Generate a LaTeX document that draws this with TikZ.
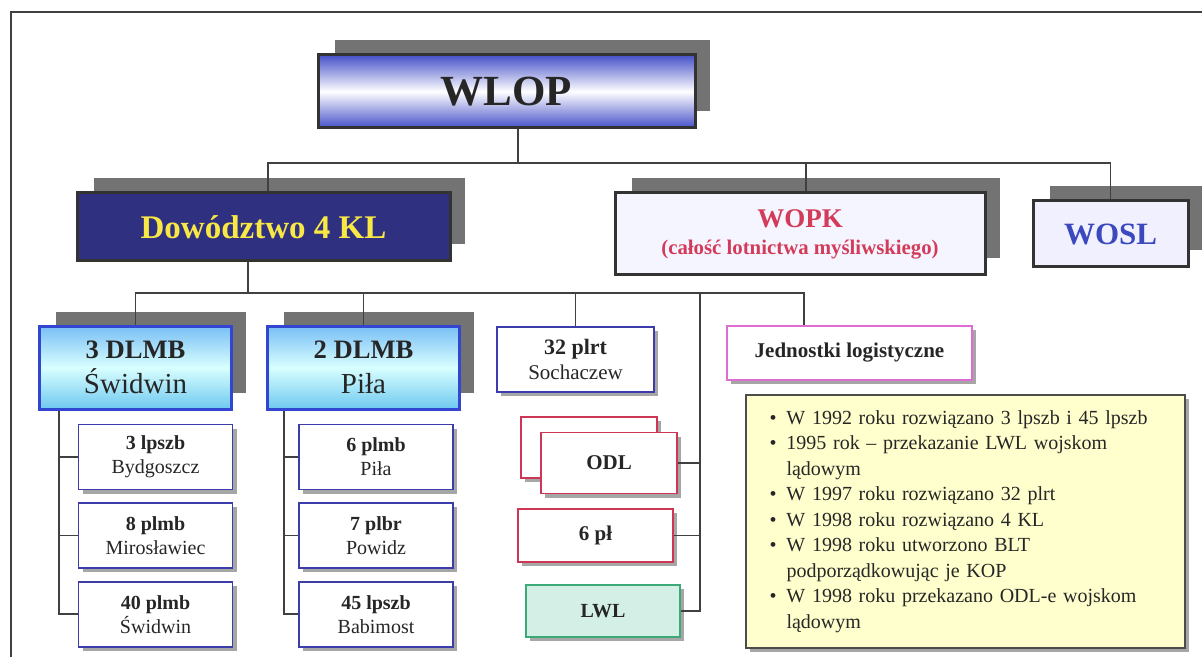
\documentclass[tikz,border=0pt]{standalone}
\usepackage{fontspec}
\setmainfont{Liberation Serif}
\usetikzlibrary{positioning,shadows,backgrounds}

\definecolor{wlopblue}{RGB}{70,80,200}
\definecolor{navyfill}{RGB}{48,48,128}
\definecolor{klyellow}{RGB}{248,232,70}
\definecolor{wopkred}{RGB}{210,60,90}
\definecolor{woslblue}{RGB}{60,72,190}
\definecolor{dlmbline}{RGB}{50,70,210}
\definecolor{dlmbtop}{RGB}{120,190,245}
\definecolor{dlmbbot}{RGB}{110,200,240}
\definecolor{subline}{RGB}{60,60,170}
\definecolor{odlred}{RGB}{205,55,85}
\definecolor{lwlgreen}{RGB}{60,170,120}
\definecolor{lwlfill}{RGB}{212,240,230}
\definecolor{logpink}{RGB}{220,110,210}
\definecolor{notefill}{RGB}{255,255,205}

\newcommand{\pkt}{\makebox[8.5pt][l]{\textbullet}}
\newcommand{\dalej}{\hspace*{8.5pt}}

\begin{document}
\begin{tikzpicture}[x=0.5pt, y=-0.5pt,
  link/.style = {draw=black!75, line width=0.75pt},
  main/.style = {draw=black!80, line width=1.5pt, align=center, inner sep=0pt},
  bigshadow/.style = {fill=black!55},
  smallshadow/.style = {drop shadow={shadow xshift=2pt, shadow yshift=-2pt, fill=black!35, opacity=1}},
  dlmb/.style = {draw=dlmbline, line width=1.5pt, top color=dlmbtop, bottom color=dlmbbot, middle color=white!85!cyan,
    minimum width=96pt, minimum height=41.5pt, align=center, text=black!85, font=\fontsize{14.5}{17.5}\selectfont},
  sub/.style = {draw=subline, line width=0.8pt, fill=white, smallshadow, minimum width=77pt, minimum height=32.5pt,
    align=center, text=black!85, font=\fontsize{10}{12}\selectfont},
  odlbox/.style = {draw=odlred, line width=0.8pt, fill=white, smallshadow, text=black!85, font=\bfseries\fontsize{10.5}{12}\selectfont}
]
\useasboundingbox (0,0) rectangle (1202,657);
\draw[line width=0.75pt, black!75] (11,657) -- (11,12) -- (1202,12);

% poziom 1
\node[main, top color=wlopblue, bottom color=wlopblue, middle color=white, minimum width=188.5pt, minimum height=36.5pt,
  text=black!85, font=\bfseries\fontsize{21.5}{24}\selectfont] (wlop) at (506.5,91.5) {WLOP};

% poziom 2
\node[main, fill=navyfill, minimum width=186.5pt, minimum height=34pt, text=klyellow,
  font=\bfseries\fontsize{16.5}{19}\selectfont] (dow) at (263.5,227) {Dowództwo 4 KL};
\node[main, fill=black!3!blue!4, minimum width=185pt, minimum height=41pt, text=wopkred,
  font=\bfseries\fontsize{10.4}{13.5}\selectfont] (wopk) at (800,234)
  {{\fontsize{13.5}{13.5}\selectfont WOPK}\\(całość lotnictwa myśliwskiego)};
\node[main, fill=blue!6, minimum width=77.5pt, minimum height=33pt, text=woslblue,
  font=\bfseries\fontsize{15.5}{18}\selectfont] (wosl) at (1110.5,234) {WOSL};

% poziom 3
\node[dlmb] (dlmb3) at (135.5,367.5) {{\bfseries\fontsize{13.3}{17.5}\selectfont 3 DLMB}\\Świdwin};
\node[dlmb] (dlmb2) at (363.5,367.5) {{\bfseries\fontsize{13.3}{17.5}\selectfont 2 DLMB}\\Piła};
\node[sub, draw=subline, minimum width=78.5pt, font=\fontsize{10.5}{12.5}\selectfont] (plrt) at (575.5,359.5)
  {{\bfseries\fontsize{11}{12.5}\selectfont 32 plrt}\\Sochaczew};
\node[sub, draw=logpink, minimum width=122.5pt, minimum height=27pt, font=\bfseries\fontsize{10.5}{12}\selectfont] (jedn)
  at (849.5,353) {Jednostki logistyczne};

% pułki
\node[sub] (a1) at (155.5,457) {\textbf{3 lpszb}\\Bydgoszcz};
\node[sub, below=6pt of a1] (a2) {\textbf{8 plmb}\\Mirosławiec};
\node[sub, below=6pt of a2] (a3) {\textbf{40 plmb}\\Świdwin};
\node[sub] (b1) at (376,457) {\textbf{6 plmb}\\Piła};
\node[sub, below=6pt of b1] (b2) {\textbf{7 plbr}\\Powidz};
\node[sub, below=6pt of b2] (b3) {\textbf{45 lpszb}\\Babimost};

\node[odlbox, minimum width=68pt, minimum height=30.5pt] (odlb) at (589,447.5) {};
\node[odlbox, minimum width=68pt, minimum height=30.5pt] (odl) at (609,463) {ODL};
\node[odlbox, minimum width=77.5pt, minimum height=26.5pt] (pl6) at (595.5,535.5) {6 pł};
\node[odlbox, draw=lwlgreen, fill=lwlfill, minimum width=77pt, minimum height=26pt, font=\bfseries\fontsize{10}{12}\selectfont]
  (lwl) at (603,611) {LWL};

% uwagi
\node[draw=black!70, line width=0.75pt, fill=notefill, smallshadow, minimum width=219.5pt, minimum height=126.5pt,
  text width=196pt, inner xsep=11.75pt, align=left, text=black!85, font=\fontsize{10}{12.75}\selectfont] (uwagi)
  at (965.5,521.5) {%
\pkt W 1992 roku rozwiązano 3 lpszb i 45 lpszb\\
\pkt 1995 rok -- przekazanie LWL wojskom\\
\dalej lądowym\\
\pkt W 1997 roku rozwiązano 32 plrt\\
\pkt W 1998 roku rozwiązano 4 KL\\
\pkt W 1998 roku utworzono BLT\\
\dalej podporządkowując je KOP\\
\pkt W 1998 roku przekazano ODL-e wojskom\\
\dalej lądowym};

\begin{scope}[on background layer]
\foreach \n in {wlop,dow,wopk,wosl,dlmb3,dlmb2}
  \fill[bigshadow] ([shift={(18,-13)}]\n.north west) rectangle ([shift={(13,-18)}]\n.south east);
\end{scope}

% linie
\coordinate (w0) at (268,163);
\coordinate (w1) at (518,163);
\coordinate (w2) at (806,163);
\draw[link] (wlop.south -| w1) -- (w1);
\draw[link] (dow.north -| w0) -- (w0) -| (wosl.north);
\draw[link] (w2) -- (w2 |- wopk.north);

\coordinate (d0) at (248,293);
\coordinate (d1) at (700,293);
\coordinate (d2) at (804,293);
\draw[link] (dow.south -| d0) -- (d0);
\draw[link] (dlmb3.north) |- (d2) -- (d2 |- jedn.north);
\draw[link] (d0 -| dlmb2.north) -- (dlmb2.north);
\draw[link] (d0 -| plrt.north) -- (plrt.north);
\draw[link] (d1) |- (lwl.east);
\draw[link] (d1 |- odl.east) -- (odl.east);
\draw[link] (d1 |- pl6.east) -- (pl6.east);

\coordinate (t3) at (59,0);
\coordinate (t2) at (284,0);
\draw[link] (dlmb3.south -| t3) |- (a3.west);
\draw[link] (t3 |- a1.west) -- (a1.west);
\draw[link] (t3 |- a2.west) -- (a2.west);
\draw[link] (dlmb2.south -| t2) |- (b3.west);
\draw[link] (t2 |- b1.west) -- (b1.west);
\draw[link] (t2 |- b2.west) -- (b2.west);
\end{tikzpicture}
\end{document}
